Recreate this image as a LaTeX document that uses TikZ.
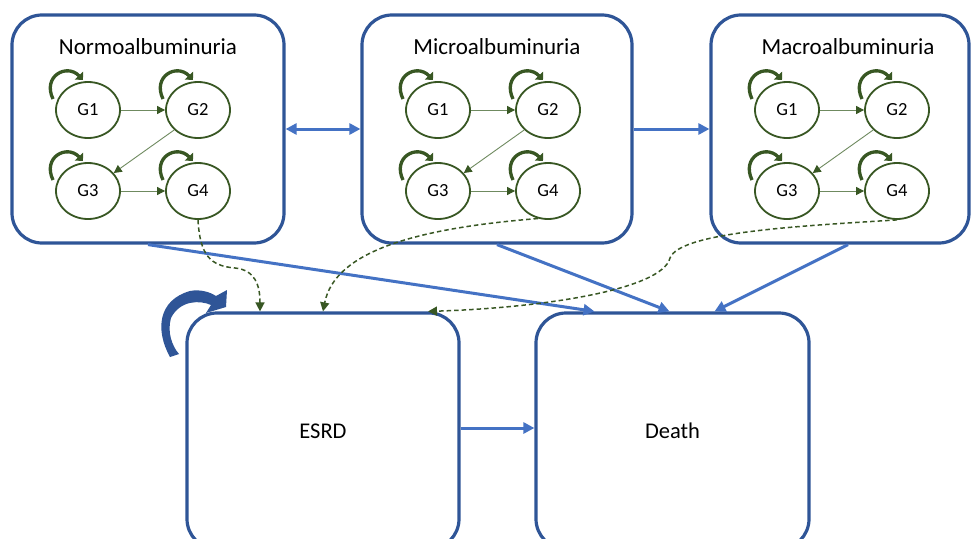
\documentclass[tikz,border=0pt]{standalone}
\usepackage{fontspec}
\setmainfont{Carlito}
\usetikzlibrary{arrows.meta,shapes.geometric,calc}
\definecolor{boxblue}{HTML}{2F5597}
\definecolor{linkblue}{HTML}{4472C4}
\definecolor{dgreen}{HTML}{385723}
\definecolor{lgreen}{HTML}{6F8A60}
\begin{document}
\begin{tikzpicture}[x=1pt,y=-1pt,
  bigbox/.style={draw=boxblue,line width=3.2pt,rounded corners=30pt,inner sep=0pt,font=\fontsize{22.5}{26}\selectfont},
  boxtitle/.style={inner sep=0pt,font=\fontsize{23}{27}\selectfont},
  gnode/.style={ellipse,draw=dgreen,line width=1.8pt,minimum width=64pt,minimum height=56pt,inner sep=0pt,font=\fontsize{18.5}{22}\selectfont},
  glink/.style={draw=lgreen,line width=0.9pt,-{Triangle[length=8pt,width=8pt,color=dgreen]}},
  gloop/.style={draw=dgreen,line width=3.3pt,-{Triangle[length=6pt,width=11pt]}},
  flow/.style={draw=linkblue,line width=3pt,-{Triangle[length=11pt,width=11pt]}},
  dflow/.style={draw=dgreen,line width=1.5pt,dash pattern=on 4.5pt off 3pt,-{Triangle[length=9pt,width=9pt]}}]
\clip (0,0) rectangle (971,538);
\fill[white] (0,0) rectangle (971,538);

% top boxes
\node[bigbox,minimum width=272pt,minimum height=228pt] (b1) at (148,129) {};
\node[bigbox,minimum width=270pt,minimum height=228pt] (b2) at (497,129) {};
\node[bigbox,minimum width=258pt,minimum height=228pt] (b3) at (840,129) {};
\node[boxtitle] (t1) at (148,47) {Normoalbuminuria};
\node[boxtitle] (t2) at (497,47) {Microalbuminuria};
\node[boxtitle] (t3) at (848,47) {Macroalbuminuria};

% bottom boxes
\node[bigbox,minimum width=272pt,minimum height=236pt] (esrd) at (323,431) {ESRD};
\node[bigbox,minimum width=273pt,minimum height=236pt] (death) at (672.5,431) {Death};

% G states in each box
\foreach \p/\dx in {1/0,2/350,3/699}{
  \node[gnode] (g\p-1) at (88+\dx,110) {G1};
  \node[gnode] (g\p-2) at (198+\dx,110) {G2};
  \node[gnode] (g\p-3) at (88+\dx,191) {G3};
  \node[gnode] (g\p-4) at (198+\dx,191) {G4};
  \foreach \q in {1,...,4}{
    \draw[gloop] ($(g\p-\q)+(-35,-11)$) .. controls ($(g\p-\q)+(-46,-34)$) and ($(g\p-\q)+(-21,-47)$) .. ($(g\p-\q)+(-5,-30)$);
  }
  \draw[glink] (g\p-1) -- (g\p-2);
  \draw[glink] (g\p-2.220) -- (g\p-3.35);
  \draw[glink] (g\p-3) -- (g\p-4);
}

% blue transitions
\draw[flow,{Triangle[length=11pt,width=11pt]}-{Triangle[length=11pt,width=11pt]}] (b1.east) -- (b2.west);
\draw[flow] (b2.east) -- (b3.west);
\draw[flow] (b1.south) -- ([xshift=-78pt]death.north);
\draw[flow] (b2.south) -- ([xshift=-3pt]death.north);
\draw[flow] ([xshift=8pt]b3.south) -- ([xshift=42pt]death.north);
\draw[flow] ([yshift=3pt]esrd.east) -- ([yshift=3pt]death.west);

% dashed transitions to ESRD
\draw[dflow] (g1-4.south) .. controls (200,255) and (210,266) .. (235,268) .. controls (255,270) and (260,285) .. ([xshift=-63pt]esrd.north);
\draw[dflow] (g2-4.250) .. controls (420,228) and (335,250) .. (esrd.north);
\draw[dflow] (g3-4.south) .. controls (800,226) and (680,232) .. (670,258) .. controls (662,290) and (540,308) .. ([xshift=105pt]esrd.north);

% ESRD self-loop
\fill[boxblue] (170,357) .. controls (155,330) and (158,300) .. (190,291) .. controls (200,289) and (210,292) .. (216,296) -- (227,290) -- (226,307) -- (206,313) -- (211,305) .. controls (200,300) and (180,300) .. (171,318) .. controls (167,332) and (172,346) .. (179,354) -- cycle;
\end{tikzpicture}
\end{document}
